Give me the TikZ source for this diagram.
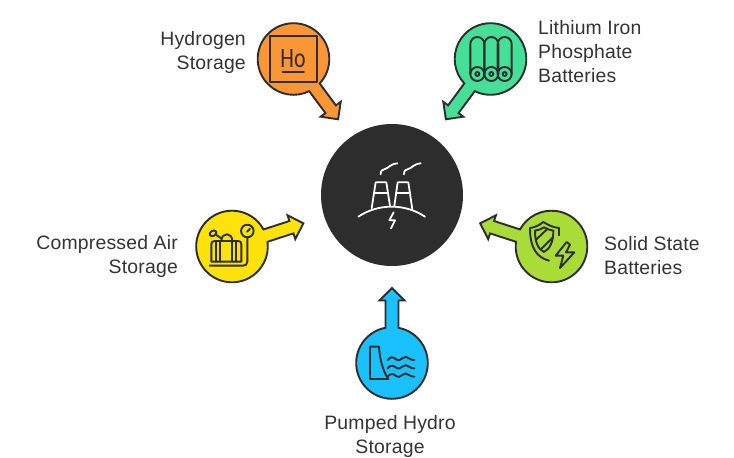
\documentclass[tikz,border=0pt]{standalone}
\usepackage{fontspec}
\setmainfont[LetterSpace=1]{Liberation Sans}
\newfontfamily\iconfont{Carlito}
\definecolor{ink}{HTML}{2D2D2D}
\definecolor{txt}{HTML}{333333}
\definecolor{corange}{HTML}{FB9637}
\definecolor{cgreen}{HTML}{45DF98}
\definecolor{cyellow}{HTML}{FFE209}
\definecolor{clime}{HTML}{A9DC37}
\definecolor{cblue}{HTML}{1AC0FF}
\tikzset{
  label text/.style={text=txt,font=\fontsize{19.4}{24}\selectfont,inner sep=0pt},
  icon/.style={draw=ink,line width=1.9pt,line cap=round,line join=round},
  iconw/.style={draw=white,line width=1.8pt,line cap=round,line join=round},
  bubble/.style={draw=ink,line width=1.9pt,line join=miter}
}
% centre x, centre y, y-up angle, colour, name
\newcommand{\bubbleshape}[5]{%
  \node[circle,minimum size=72pt,inner sep=0pt] (#5) at (#1,#2) {};
  \begin{scope}[shift={(#1,#2)},x=1pt,y=1pt,rotate=#3]
    \path[bubble,fill=#4] (10.46:35.8) arc[start angle=10.46,end angle=349.54,radius=35.8]
      -- (62.5,-6.5) -- (62.5,-12.5) -- (75,0) -- (62.5,12.5) -- (62.5,6.5) -- cycle;
  \end{scope}}
\begin{document}
\begin{tikzpicture}[x=1pt,y=-1pt]
\useasboundingbox (0,0) rectangle (734,458);
\fill[white] (0,0) rectangle (734,458);

\node[circle,fill=ink,minimum size=142pt,inner sep=0pt] (core) at (392,195) {};

\bubbleshape{293.5}{59}{-53.5}{corange}{hydrogen}
\bubbleshape{490.5}{59}{233.5}{cgreen}{lithium}
\bubbleshape{232}{246.5}{18}{cyellow}{air}
\bubbleshape{551.5}{246.5}{162}{clime}{solid}
\bubbleshape{392}{363}{90}{cblue}{hydro}

% core icon
\begin{scope}[shift={(345,150)},x=0.3333pt,y=-0.3333pt]
  \draw[iconw] (40,200) .. controls (100,160) and (180,160) .. (240,200);
  \draw[iconw] (80,175) -- (92,97) -- (124,97) -- (135,168);
  \draw[iconw] (87,128) -- (129,128);
  \draw[iconw] (148,168) -- (158,97) -- (190,97) -- (202,178);
  \draw[iconw] (153,128) -- (195,128);
  \draw[iconw] (107,73) .. controls (107,62) and (112,58) .. (120,57) .. controls (130,55) and (135,42) .. (157,40);
  \draw[iconw] (177,73) .. controls (177,62) and (182,58) .. (190,57) .. controls (200,55) and (205,42) .. (227,40);
  \draw[iconw] (146,187) -- (133,211) -- (150,211) -- (138,235);
\end{scope}

% hydrogen icon
\begin{scope}[shift={(240,10)},x=0.3333pt,y=-0.3333pt]
  \draw[icon] (90,78) rectangle (230,215);
  \node[inner sep=0pt,anchor=base,text=ink,font=\iconfont\fontsize{28}{28}\selectfont] (ho) at (159,174) {\scalebox{0.78}[1]{Ho}};
  \draw[icon] (128,187) -- (192,187);
\end{scope}

% lithium icon
\begin{scope}[shift={(435,10)},x=0.3333pt,y=-0.3333pt]
  \foreach \c in {127,169,209}{
    \draw[icon] (\c-21,192) -- (\c-21,102) arc[start angle=180,end angle=0,radius=7pt] -- (\c+21,192);
    \draw[icon] (\c,192) circle[radius=7pt];
    \draw[icon] (\c,192) circle[radius=2pt];
  }
\end{scope}

% air icon (3x crop at 203,220)
\begin{scope}[shift={(203,220)},x=0.3333pt,y=-0.3333pt]
  \draw[icon] (133,33) circle[radius=6.3pt];
  \draw[icon] (132,35) -- (141,26);
  \draw[icon] (133,52) -- (133,125) .. controls (133,133) and (128,137) .. (120,137) -- (20,137);
  \draw[icon] (25,125) -- (25,72) .. controls (25,66) and (29,63) .. (35,63) -- (105,63) .. controls (111,63) and (115,66) .. (115,72) -- (115,125) -- cycle;
  \draw[icon] (38,63) -- (38,125) (50,63) -- (50,125) (88,63) -- (88,125) (100,63) -- (100,125);
  \draw[icon] (55,63) .. controls (55,36) and (88,36) .. (88,63);
  \draw[icon,rotate around={30:(30,40)}] (30,40) ellipse[x radius=3.6pt,y radius=2.6pt];
  \draw[icon] (40,45) -- (55,55);
\end{scope}

% solid state icon (3x crop at 525,218)
\begin{scope}[shift={(525,218)},x=0.3333pt,y=-0.3333pt]
  \draw[icon] (72,128) .. controls (35,118) and (15,90) .. (15,30) .. controls (32,28) and (45,20) .. (55,12) .. controls (68,20) and (82,28) .. (102,30) -- (102,52);
  \draw[icon] (57,28) .. controls (48,33) and (40,37) .. (30,38) .. controls (30,72) and (38,92) .. (57,102) .. controls (75,92) and (85,72) .. (85,38) .. controls (75,37) and (66,33) .. (57,28) -- cycle;
  \draw[icon] (34,64) -- (68,32) (48,94) -- (84,58);
  \draw[icon] (125,72) -- (92,113) -- (115,113) -- (105,150) -- (148,103) -- (123,103) -- (135,80) -- cycle;
\end{scope}

% hydro icon
\begin{scope}[shift={(345,280)},x=0.3333pt,y=-0.3333pt]
  \draw[icon] (75,200) -- (102,200) .. controls (104,240) and (115,275) .. (130,297) -- (75,297) -- cycle;
  \foreach \w in {235,260,285}{
    \draw[icon] (128,\w+5) .. controls (136,\w-5) and (144,\w-5) .. (152,\w+2) .. controls (160,\w+8) and (166,\w+6) .. (172,\w) .. controls (178,\w-6) and (186,\w-6) .. (192,\w) .. controls (196,\w+4) and (202,\w+5) .. (208,\w+5);
  }
\end{scope}

% labels
\node[label text,align=right,anchor=east] (t1) at (246,52) {Hydrogen\\Storage};
\node[label text,align=left,anchor=west] (t2) at (538,52) {Lithium Iron\\Phosphate\\Batteries};
\node[label text,align=right,anchor=east] (t3) at (178,256) {Compressed Air\\Storage};
\node[label text,align=left,anchor=west] (t4) at (604,256) {Solid State\\Batteries};
\node[label text,align=center] (t5) at (390,436) {Pumped Hydro\\Storage};
\end{tikzpicture}
\end{document}
